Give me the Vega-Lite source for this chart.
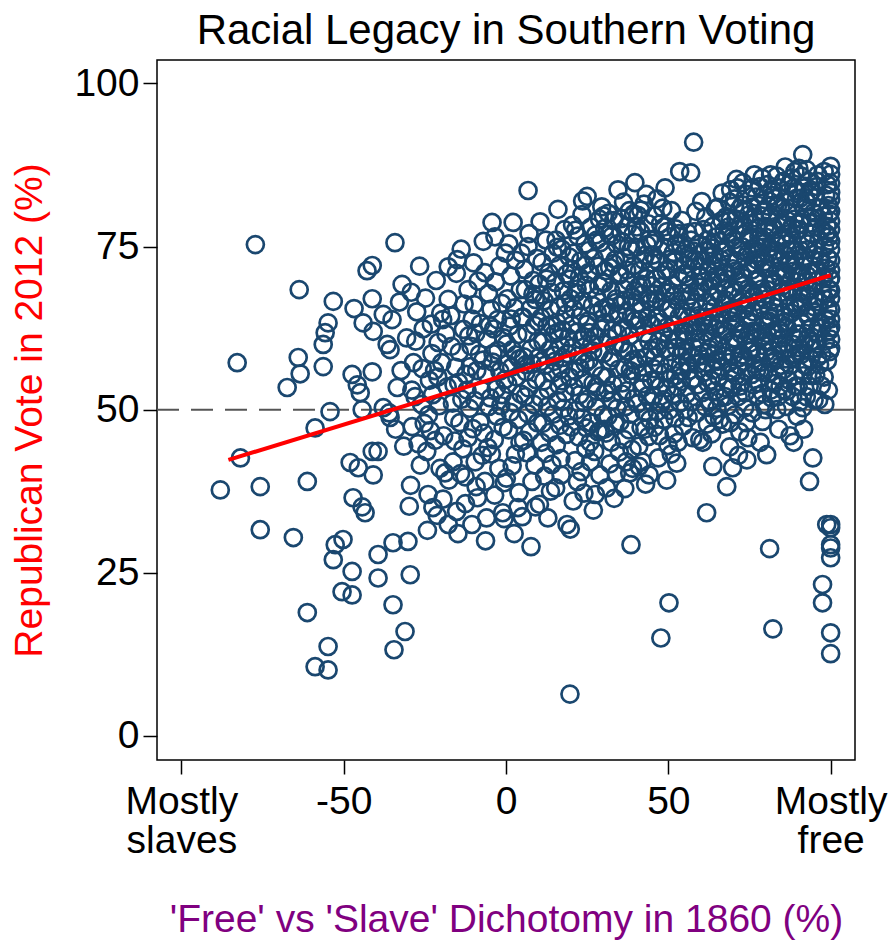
{
  "$schema": "https://vega.github.io/schema/vega-lite/v6.json",
  "width": 698,
  "height": 700,
  "autosize": "none",
  "padding": {"left": 157, "top": 60, "right": 36, "bottom": 184},
  "background": "white",
  "title": {"text": "Racial Legacy in Southern Voting", "fontSize": 42, "fontWeight": "normal", "font": "Liberation Sans", "color": "black", "anchor": "middle", "offset": 7},
  "config": {
    "font": "Liberation Sans",
    "view": {"stroke": "black", "strokeWidth": 1.5},
    "axis": {"domain": false, "grid": false, "tickColor": "black", "tickWidth": 1.5, "labelColor": "black", "labelFont": "Liberation Sans", "titleFont": "Liberation Sans", "titleFontWeight": "normal", "labelFontSize": 39, "titleFontSize": 39, "tickSize": 14}
  },
  "datasets": {
    "ref": [{"y": 50, "xa": -107.5, "xb": 5}],
    "ref2": [{"y": 50, "xa": 5, "xb": 107.5}],
    "fit": [{"x": -85.5, "y": 42.3}, {"x": 100, "y": 70.6}],
    "pts": [
{"x":-88.0,"y":37.7},{"x":-77.2,"y":75.3},{"x":-82.8,"y":57.2},{"x":-81.8,"y":42.6},{"x":-75.7,"y":38.2},{"x":-75.7,"y":31.6},{"x":-65.5,"y":30.4},{"x":-63.7,"y":68.4},{"x":-64.0,"y":58.0},{"x":-63.4,"y":55.5},{"x":-67.4,"y":53.4},{"x":-61.2,"y":39.0},{"x":-58.8,"y":47.2},{"x":-61.2,"y":18.9},{"x":-58.8,"y":10.6},{"x":-54.8,"y":10.1},{"x":-54.8,"y":13.7},{"x":-53.2,"y":66.6},{"x":-56.3,"y":60.0},{"x":-55.7,"y":61.8},{"x":-54.8,"y":63.3},{"x":-56.3,"y":56.6},{"x":-54.2,"y":49.7},{"x":-53.2,"y":27.0},{"x":-52.6,"y":29.3},{"x":-50.2,"y":30.1},{"x":-50.5,"y":22.1},{"x":-47.4,"y":21.6},{"x":-47.4,"y":25.2},{"x":-47.1,"y":36.5},{"x":-48.0,"y":41.9},{"x":-45.5,"y":41.1},{"x":-47.4,"y":55.4},{"x":-45.8,"y":53.8},{"x":-44.9,"y":52.6},{"x":-46.8,"y":65.5},{"x":-44.0,"y":63.3},{"x":-44.3,"y":35.1},{"x":-43.4,"y":34.2},{"x":-41.2,"y":67.0},{"x":-40.9,"y":62.0},{"x":-41.2,"y":55.8},{"x":-41.2,"y":43.6},{"x":-39.4,"y":43.6},{"x":-40.9,"y":40.0},{"x":-39.4,"y":27.8},{"x":-39.4,"y":24.2},{"x":-37.8,"y":64.6},{"x":-36.6,"y":60.0},{"x":-37.8,"y":50.3},{"x":-44.3,"y":50.0},{"x":-34.8,"y":29.6},{"x":-34.8,"y":20.1},{"x":-34.5,"y":13.2},{"x":-34.2,"y":75.6},{"x":-42.8,"y":71.3},{"x":-41.2,"y":72.1},{"x":-32.0,"y":69.2},{"x":-31.1,"y":16.0},{"x":-35.1,"y":63.8},{"x":-35.7,"y":59.2},{"x":-36.0,"y":49.5},{"x":-33.5,"y":53.4},{"x":-35.7,"y":48.8},{"x":-32.3,"y":56.0},{"x":-31.5,"y":44.4},{"x":-34.0,"y":47.0},{"x":-32.8,"y":66.5},{"x":-30.6,"y":61.0},
{"x":-29.5,"y":24.7},{"x":-30.2,"y":29.8},{"x":-29.8,"y":35.2},{"x":-29.4,"y":38.4},{"x":-28.9,"y":47.4},{"x":-29.0,"y":53.0},{"x":-28.5,"y":57.2},{"x":-29.2,"y":68.0},{"x":-27.8,"y":60.5},{"x":-26.6,"y":72.0},{"x":-26.0,"y":50.8},{"x":-27.1,"y":44.8},{"x":-25.8,"y":56.3},{"x":-25.5,"y":62.4},{"x":-26.4,"y":41.5},{"x":-27.5,"y":65.0},{"x":-25.2,"y":47.9},{"x":-28.0,"y":52.0},
{"x":-24.4,"y":43.6},{"x":-24.0,"y":37.0},{"x":-22.5,"y":35.0},{"x":-23.6,"y":54.5},{"x":-22.8,"y":58.6},{"x":-24.8,"y":67.1},{"x":-21.5,"y":69.8},{"x":-23.0,"y":63.1},{"x":-20.3,"y":41.0},{"x":-21.8,"y":45.3},{"x":-20.6,"y":50.6},{"x":-22.0,"y":56.0},{"x":-20.9,"y":60.3},{"x":-23.9,"y":49.2},{"x":-21.2,"y":33.8},{"x":-24.2,"y":31.5},{"x":-20.1,"y":64.8},{"x":-22.6,"y":52.3},{"x":-21.0,"y":55.0},{"x":-23.3,"y":46.8},
{"x":-17.8,"y":71.9},{"x":-17.8,"y":66.9},{"x":-19.5,"y":63.8},{"x":-18.8,"y":40.3},{"x":-17.6,"y":39.2},{"x":-16.3,"y":42.0},{"x":-15.2,"y":34.4},{"x":-17.8,"y":32.4},{"x":-16.1,"y":48.7},{"x":-19.2,"y":46.0},{"x":-15.5,"y":56.5},{"x":-18.1,"y":53.5},{"x":-16.8,"y":59.7},{"x":-19.8,"y":57.2},{"x":-15.0,"y":73.0},{"x":-15.3,"y":70.9},{"x":-16.5,"y":51.0},{"x":-18.5,"y":61.6},{"x":-17.0,"y":64.4},{"x":-15.8,"y":45.2},{"x":-19.4,"y":36.3},{"x":-16.0,"y":53.8},
{"x":-12.6,"y":39.7},{"x":-11.7,"y":45.7},{"x":-14.0,"y":40.2},{"x":-10.5,"y":32.4},{"x":-14.8,"y":31.0},{"x":-11.7,"y":68.4},{"x":-10.0,"y":72.5},{"x":-13.1,"y":62.3},{"x":-12.3,"y":55.4},{"x":-14.4,"y":58.8},{"x":-10.8,"y":59.7},{"x":-13.6,"y":51.6},{"x":-11.2,"y":50.2},{"x":-14.2,"y":48.0},{"x":-12.9,"y":66.2},{"x":-10.4,"y":63.9},{"x":-13.8,"y":74.6},{"x":-11.0,"y":56.6},{"x":-12.0,"y":53.0},{"x":-10.2,"y":47.1},{"x":-14.6,"y":54.2},{"x":-13.3,"y":44.0},{"x":-11.5,"y":61.3},{"x":-12.5,"y":35.6},
{"x":-9.5,"y":42.0},{"x":-7.3,"y":43.0},{"x":-6.5,"y":39.0},{"x":-9.2,"y":38.2},{"x":-6.0,"y":33.4},{"x":-7.0,"y":75.8},{"x":-6.5,"y":71.0},{"x":-8.6,"y":69.7},{"x":-9.8,"y":66.1},{"x":-5.4,"y":67.8},{"x":-7.8,"y":63.2},{"x":-5.8,"y":60.8},{"x":-8.2,"y":58.5},{"x":-9.0,"y":56.0},{"x":-6.2,"y":55.5},{"x":-7.5,"y":53.0},{"x":-9.6,"y":51.4},{"x":-5.3,"y":50.5},{"x":-8.0,"y":48.1},{"x":-6.8,"y":46.4},{"x":-5.6,"y":44.2},{"x":-9.3,"y":61.7},{"x":-7.1,"y":57.6},{"x":-5.1,"y":62.9},{"x":-8.8,"y":36.5},{"x":-6.3,"y":29.9},
{"x":-4.3,"y":78.7},{"x":-3.4,"y":76.5},{"x":-2.0,"y":72.0},{"x":-3.2,"y":69.6},{"x":-0.2,"y":74.0},{"x":-4.6,"y":65.4},{"x":-1.3,"y":66.3},{"x":-3.8,"y":62.4},{"x":-0.7,"y":61.0},{"x":-2.5,"y":59.1},{"x":-4.1,"y":57.3},{"x":-1.9,"y":55.9},{"x":-0.4,"y":54.6},{"x":-3.0,"y":53.2},{"x":-4.8,"y":51.8},{"x":-1.6,"y":50.6},{"x":-2.8,"y":49.0},{"x":-0.9,"y":47.3},{"x":-3.6,"y":45.4},{"x":-4.5,"y":43.2},{"x":-2.2,"y":41.0},{"x":-0.5,"y":38.8},{"x":-3.5,"y":36.9},{"x":-1.0,"y":34.2},{"x":-0.6,"y":33.3},{"x":-4.0,"y":58.6},{"x":-2.6,"y":63.8},{"x":-1.2,"y":52.3},
{"x":2.2,"y":78.7},{"x":0.9,"y":75.4},{"x":3.0,"y":72.9},{"x":1.5,"y":70.5},{"x":4.4,"y":68.4},{"x":0.4,"y":67.0},{"x":2.7,"y":65.6},{"x":4.9,"y":64.1},{"x":1.1,"y":62.8},{"x":3.6,"y":61.5},{"x":0.2,"y":60.1},{"x":2.0,"y":59.2},{"x":4.1,"y":57.8},{"x":1.7,"y":56.5},{"x":3.3,"y":55.0},{"x":0.6,"y":53.9},{"x":4.6,"y":52.4},{"x":2.4,"y":51.1},{"x":1.3,"y":49.6},{"x":3.8,"y":48.5},{"x":0.8,"y":46.9},{"x":4.3,"y":45.0},{"x":2.9,"y":43.2},{"x":1.9,"y":41.4},{"x":3.7,"y":35.0},{"x":4.0,"y":37.3},{"x":0.1,"y":39.5},{"x":2.5,"y":31.0},{"x":1.6,"y":63.9},{"x":3.1,"y":58.4},{"x":0.3,"y":57.0},{"x":4.7,"y":74.0},
{"x":6.8,"y":83.6},{"x":6.8,"y":75.0},{"x":7.1,"y":77.0},{"x":9.5,"y":73.2},{"x":5.7,"y":71.5},{"x":8.4,"y":69.8},{"x":6.0,"y":68.4},{"x":9.0,"y":66.9},{"x":7.5,"y":65.5},{"x":5.2,"y":64.2},{"x":8.8,"y":62.9},{"x":6.5,"y":61.7},{"x":9.8,"y":60.5},{"x":7.8,"y":59.4},{"x":5.5,"y":58.1},{"x":8.1,"y":57.0},{"x":6.2,"y":55.8},{"x":9.3,"y":54.6},{"x":7.0,"y":53.3},{"x":5.9,"y":52.0},{"x":8.6,"y":50.8},{"x":6.7,"y":49.4},{"x":9.7,"y":48.0},{"x":7.3,"y":46.6},{"x":5.4,"y":45.3},{"x":8.0,"y":39.0},{"x":8.9,"y":41.5},{"x":6.4,"y":43.4},{"x":7.7,"y":29.0},{"x":9.1,"y":35.1},{"x":5.0,"y":33.6},{"x":9.9,"y":63.5},{"x":6.1,"y":56.9},{"x":8.3,"y":67.7},
{"x":10.5,"y":78.8},{"x":12.3,"y":76.0},{"x":14.5,"y":74.0},{"x":11.1,"y":72.6},{"x":13.2,"y":71.0},{"x":10.2,"y":69.3},{"x":14.0,"y":68.0},{"x":11.8,"y":66.7},{"x":13.8,"y":65.3},{"x":10.8,"y":64.1},{"x":12.6,"y":62.8},{"x":14.8,"y":61.6},{"x":11.4,"y":60.4},{"x":13.5,"y":59.2},{"x":10.0,"y":58.0},{"x":12.0,"y":56.8},{"x":14.3,"y":55.6},{"x":11.6,"y":54.4},{"x":13.0,"y":53.1},{"x":10.6,"y":51.9},{"x":12.8,"y":50.5},{"x":14.6,"y":49.3},{"x":11.3,"y":47.9},{"x":13.4,"y":46.5},{"x":10.9,"y":45.0},{"x":12.2,"y":43.3},{"x":14.1,"y":41.6},{"x":11.9,"y":39.8},{"x":13.7,"y":37.5},{"x":10.3,"y":35.5},{"x":12.9,"y":33.4},{"x":11.0,"y":57.4},{"x":13.9,"y":63.0},{"x":10.7,"y":67.6},{"x":12.5,"y":70.0},{"x":14.9,"y":58.3},
{"x":16.0,"y":80.7},{"x":18.0,"y":77.6},{"x":15.4,"y":76.0},{"x":17.2,"y":74.6},{"x":19.5,"y":73.4},{"x":16.5,"y":72.1},{"x":18.7,"y":70.8},{"x":15.2,"y":69.5},{"x":17.7,"y":68.2},{"x":19.9,"y":67.0},{"x":16.2,"y":65.8},{"x":18.4,"y":64.6},{"x":15.7,"y":63.4},{"x":17.4,"y":62.2},{"x":19.2,"y":61.0},{"x":16.8,"y":59.8},{"x":18.9,"y":58.6},{"x":15.0,"y":57.4},{"x":17.0,"y":56.2},{"x":19.6,"y":55.0},{"x":16.3,"y":53.8},{"x":18.2,"y":52.6},{"x":15.9,"y":51.4},{"x":17.8,"y":50.2},{"x":19.3,"y":49.0},{"x":16.6,"y":47.6},{"x":18.5,"y":46.2},{"x":15.5,"y":44.6},{"x":17.0,"y":40.0},{"x":18.8,"y":32.4},{"x":19.8,"y":31.7},{"x":16.9,"y":42.5},{"x":15.3,"y":38.0},{"x":19.7,"y":6.4},{"x":17.5,"y":58.0},{"x":16.1,"y":61.9},{"x":18.3,"y":66.3},{"x":19.7,"y":70.0},{"x":15.8,"y":74.9},{"x":17.3,"y":54.4},
{"x":23.4,"y":79.9},{"x":20.5,"y":78.3},{"x":22.1,"y":76.6},{"x":24.3,"y":75.4},{"x":21.0,"y":74.0},{"x":23.0,"y":72.8},{"x":20.2,"y":71.5},{"x":22.6,"y":70.3},{"x":24.7,"y":69.1},{"x":21.5,"y":67.9},{"x":23.7,"y":66.7},{"x":20.8,"y":65.5},{"x":22.9,"y":64.3},{"x":24.9,"y":63.1},{"x":21.8,"y":61.9},{"x":23.3,"y":60.7},{"x":20.4,"y":59.5},{"x":22.3,"y":58.3},{"x":24.4,"y":57.1},{"x":21.2,"y":55.9},{"x":23.9,"y":54.7},{"x":20.9,"y":53.5},{"x":22.7,"y":52.3},{"x":24.1,"y":51.1},{"x":21.6,"y":49.9},{"x":23.5,"y":48.7},{"x":20.1,"y":47.3},{"x":22.4,"y":45.8},{"x":24.6,"y":44.0},{"x":21.3,"y":42.2},{"x":23.1,"y":40.5},{"x":24.0,"y":37.2},{"x":22.0,"y":39.0},{"x":20.7,"y":36.0},{"x":24.8,"y":47.2},{"x":23.8,"y":61.2},{"x":21.9,"y":68.5},{"x":20.3,"y":63.0},{"x":22.8,"y":56.4},{"x":24.5,"y":72.2},{"x":21.4,"y":77.5},{"x":23.6,"y":82.0},
{"x":25.0,"y":82.7},{"x":29.5,"y":81.1},{"x":28.8,"y":79.2},{"x":26.2,"y":78.0},{"x":27.6,"y":76.8},{"x":29.0,"y":75.6},{"x":25.5,"y":74.4},{"x":27.1,"y":73.2},{"x":28.5,"y":72.0},{"x":26.0,"y":70.8},{"x":29.7,"y":69.6},{"x":25.8,"y":68.4},{"x":27.9,"y":67.2},{"x":26.6,"y":66.0},{"x":28.2,"y":64.8},{"x":25.3,"y":63.6},{"x":29.2,"y":62.4},{"x":27.4,"y":61.2},{"x":26.4,"y":60.0},{"x":28.7,"y":58.8},{"x":25.6,"y":57.6},{"x":27.0,"y":56.4},{"x":29.4,"y":55.2},{"x":26.8,"y":54.0},{"x":28.1,"y":52.8},{"x":25.1,"y":51.6},{"x":27.7,"y":50.4},{"x":29.9,"y":49.2},{"x":26.1,"y":48.0},{"x":28.4,"y":46.6},{"x":25.9,"y":45.0},{"x":27.3,"y":43.6},{"x":26.0,"y":42.0},{"x":28.9,"y":40.0},{"x":27.5,"y":37.0},{"x":29.1,"y":46.8},{"x":26.9,"y":34.6},{"x":25.4,"y":71.0},{"x":28.0,"y":76.0},{"x":26.7,"y":59.0},{"x":29.6,"y":65.4},{"x":27.8,"y":53.5},{"x":25.7,"y":61.8},{"x":28.6,"y":69.0},
{"x":34.5,"y":83.7},{"x":31.5,"y":80.1},{"x":33.2,"y":79.0},{"x":30.4,"y":77.8},{"x":32.6,"y":76.6},{"x":34.1,"y":75.4},{"x":30.9,"y":74.2},{"x":33.7,"y":73.0},{"x":31.9,"y":71.8},{"x":34.8,"y":70.6},{"x":30.2,"y":69.4},{"x":32.3,"y":68.2},{"x":33.9,"y":67.0},{"x":31.2,"y":65.8},{"x":34.4,"y":64.6},{"x":30.7,"y":63.4},{"x":32.9,"y":62.2},{"x":31.6,"y":61.0},{"x":33.4,"y":59.8},{"x":30.1,"y":58.6},{"x":32.1,"y":57.4},{"x":34.7,"y":56.2},{"x":31.0,"y":55.0},{"x":33.0,"y":53.8},{"x":30.5,"y":52.6},{"x":32.7,"y":51.4},{"x":34.2,"y":50.2},{"x":31.4,"y":49.0},{"x":33.6,"y":47.8},{"x":30.8,"y":46.4},{"x":32.4,"y":45.0},{"x":34.9,"y":43.5},{"x":31.0,"y":38.0},{"x":32.0,"y":41.7},{"x":33.3,"y":36.4},{"x":34.0,"y":40.2},{"x":30.3,"y":47.0},{"x":31.8,"y":76.9},{"x":33.8,"y":66.4},{"x":30.6,"y":71.3},{"x":32.8,"y":58.0},{"x":34.3,"y":61.7},{"x":31.3,"y":53.0},{"x":33.1,"y":72.4},{"x":30.0,"y":79.7},{"x":32.2,"y":64.9},
{"x":39.7,"y":84.8},{"x":36.2,"y":81.8},{"x":38.0,"y":80.5},{"x":35.5,"y":79.3},{"x":37.4,"y":78.1},{"x":39.1,"y":76.9},{"x":35.9,"y":75.7},{"x":38.5,"y":74.5},{"x":36.7,"y":73.3},{"x":39.4,"y":72.1},{"x":35.2,"y":70.9},{"x":37.8,"y":69.7},{"x":36.3,"y":68.5},{"x":38.9,"y":67.3},{"x":35.6,"y":66.1},{"x":37.1,"y":64.9},{"x":39.8,"y":63.7},{"x":36.0,"y":62.5},{"x":38.2,"y":61.3},{"x":35.3,"y":60.1},{"x":37.6,"y":58.9},{"x":39.2,"y":57.7},{"x":36.5,"y":56.5},{"x":38.7,"y":55.3},{"x":35.8,"y":54.1},{"x":37.3,"y":52.9},{"x":39.5,"y":51.7},{"x":36.9,"y":50.5},{"x":38.4,"y":49.3},{"x":35.1,"y":48.1},{"x":37.9,"y":46.9},{"x":36.4,"y":45.4},{"x":38.8,"y":43.9},{"x":37.0,"y":42.0},{"x":38.1,"y":40.3},{"x":36.6,"y":37.9},{"x":38.5,"y":29.3},{"x":39.0,"y":41.0},{"x":35.4,"y":77.2},{"x":37.2,"y":71.4},{"x":39.6,"y":68.2},{"x":36.1,"y":59.4},{"x":38.6,"y":64.1},{"x":35.7,"y":52.4},{"x":37.7,"y":75.0},{"x":39.3,"y":80.0},{"x":36.8,"y":66.8},{"x":38.3,"y":56.0},
{"x":42.5,"y":81.5},{"x":40.6,"y":79.8},{"x":43.8,"y":78.5},{"x":41.4,"y":77.3},{"x":44.2,"y":76.1},{"x":40.2,"y":74.9},{"x":42.9,"y":73.7},{"x":44.7,"y":72.5},{"x":41.1,"y":71.3},{"x":43.3,"y":70.1},{"x":40.8,"y":68.9},{"x":42.1,"y":67.7},{"x":44.5,"y":66.5},{"x":41.7,"y":65.3},{"x":43.6,"y":64.1},{"x":40.4,"y":62.9},{"x":42.7,"y":61.7},{"x":44.0,"y":60.5},{"x":41.3,"y":59.3},{"x":43.1,"y":58.1},{"x":40.0,"y":56.9},{"x":42.3,"y":55.7},{"x":44.8,"y":54.5},{"x":41.9,"y":53.3},{"x":43.5,"y":52.1},{"x":40.5,"y":50.9},{"x":42.6,"y":49.7},{"x":44.3,"y":48.5},{"x":41.6,"y":47.3},{"x":43.9,"y":45.9},{"x":40.9,"y":44.4},{"x":42.0,"y":42.0},{"x":44.1,"y":40.0},{"x":43.0,"y":38.6},{"x":41.0,"y":41.3},{"x":42.8,"y":47.0},{"x":44.6,"y":51.3},{"x":40.3,"y":78.0},{"x":43.4,"y":75.3},{"x":41.8,"y":69.2},{"x":44.4,"y":63.2},{"x":40.7,"y":57.8},{"x":42.4,"y":72.9},{"x":43.7,"y":67.0},{"x":41.2,"y":63.8},{"x":44.9,"y":59.1},{"x":42.2,"y":54.0},{"x":40.1,"y":66.2},{"x":43.2,"y":83.0},{"x":41.5,"y":80.6},
{"x":49.0,"y":84.0},{"x":46.5,"y":82.3},{"x":48.3,"y":80.9},{"x":45.6,"y":79.7},{"x":47.6,"y":78.5},{"x":49.6,"y":77.3},{"x":46.0,"y":76.1},{"x":48.8,"y":74.9},{"x":45.3,"y":73.7},{"x":47.2,"y":72.5},{"x":49.3,"y":71.3},{"x":46.4,"y":70.1},{"x":48.1,"y":68.9},{"x":45.9,"y":67.7},{"x":47.9,"y":66.5},{"x":49.8,"y":65.3},{"x":46.8,"y":64.1},{"x":45.1,"y":62.9},{"x":48.5,"y":61.7},{"x":47.0,"y":60.5},{"x":49.1,"y":59.3},{"x":45.7,"y":58.1},{"x":47.4,"y":56.9},{"x":48.9,"y":55.7},{"x":46.2,"y":54.5},{"x":49.5,"y":53.3},{"x":45.4,"y":52.1},{"x":47.8,"y":50.9},{"x":46.6,"y":49.7},{"x":48.6,"y":48.5},{"x":45.8,"y":47.3},{"x":47.3,"y":46.0},{"x":49.9,"y":44.5},{"x":46.9,"y":42.6},{"x":49.5,"y":39.2},{"x":47.7,"y":15.0},{"x":50.2,"y":20.4},{"x":45.2,"y":75.5},{"x":48.0,"y":70.7},{"x":46.3,"y":66.9},{"x":49.4,"y":62.6},{"x":45.5,"y":56.3},{"x":48.4,"y":51.5},{"x":46.7,"y":59.6},{"x":47.1,"y":63.4},{"x":49.2,"y":67.9},{"x":45.0,"y":69.0},{"x":48.7,"y":78.0},{"x":46.1,"y":73.0},{"x":47.5,"y":53.6},
{"x":53.5,"y":86.5},{"x":51.0,"y":80.5},{"x":54.2,"y":79.0},{"x":52.3,"y":77.7},{"x":50.5,"y":76.5},{"x":53.8,"y":75.3},{"x":51.6,"y":74.1},{"x":54.7,"y":73.9},{"x":52.0,"y":72.7},{"x":50.2,"y":71.5},{"x":53.1,"y":70.3},{"x":51.3,"y":69.1},{"x":54.4,"y":67.9},{"x":52.7,"y":66.7},{"x":50.8,"y":65.5},{"x":53.4,"y":64.3},{"x":51.9,"y":63.1},{"x":54.9,"y":61.9},{"x":50.1,"y":60.7},{"x":52.5,"y":59.5},{"x":53.9,"y":58.3},{"x":51.2,"y":57.1},{"x":54.1,"y":55.9},{"x":50.6,"y":54.7},{"x":52.8,"y":53.5},{"x":51.5,"y":52.3},{"x":53.6,"y":51.1},{"x":50.3,"y":49.9},{"x":52.1,"y":48.7},{"x":54.6,"y":47.5},{"x":51.8,"y":46.3},{"x":53.0,"y":45.0},{"x":50.9,"y":43.2},{"x":52.6,"y":41.8},{"x":54.0,"y":54.3},{"x":53.5,"y":51.0},{"x":50.4,"y":68.0},{"x":52.4,"y":75.4},{"x":54.8,"y":70.8},{"x":51.1,"y":62.0},{"x":53.7,"y":56.7},{"x":50.7,"y":58.9},{"x":52.9,"y":61.0},{"x":54.3,"y":65.0},{"x":51.7,"y":67.5},{"x":53.2,"y":77.0},{"x":50.0,"y":73.0},{"x":52.2,"y":55.2},{"x":54.5,"y":59.0},
{"x":57.8,"y":91.0},{"x":56.9,"y":86.3},{"x":58.5,"y":80.4},{"x":56.0,"y":77.1},{"x":57.0,"y":76.0},{"x":59.4,"y":75.4},{"x":55.6,"y":74.6},{"x":58.2,"y":73.0},{"x":55.2,"y":72.2},{"x":57.5,"y":71.6},{"x":59.8,"y":70.4},{"x":56.6,"y":69.2},{"x":58.8,"y":68.0},{"x":55.8,"y":66.8},{"x":57.2,"y":65.6},{"x":59.1,"y":64.4},{"x":56.9,"y":63.2},{"x":55.3,"y":62.0},{"x":58.4,"y":60.8},{"x":57.7,"y":59.6},{"x":59.6,"y":58.4},{"x":55.9,"y":57.2},{"x":56.4,"y":56.0},{"x":58.0,"y":54.8},{"x":59.0,"y":53.8},{"x":55.6,"y":52.4},{"x":57.3,"y":51.2},{"x":58.7,"y":49.5},{"x":56.1,"y":48.8},{"x":57.5,"y":45.7},{"x":59.7,"y":45.4},{"x":55.1,"y":50.0},{"x":57.9,"y":61.8},{"x":56.7,"y":67.5},{"x":58.3,"y":66.5},{"x":55.7,"y":70.4},{"x":57.6,"y":74.3},{"x":59.5,"y":72.0},{"x":56.2,"y":64.0},{"x":58.7,"y":62.8},{"x":55.0,"y":60.5},{"x":57.4,"y":58.0},{"x":59.2,"y":57.0},{"x":56.5,"y":73.0},{"x":58.1,"y":77.3},{"x":55.8,"y":59.0},{"x":57.0,"y":54.5},{"x":59.7,"y":68.8},
{"x":60.3,"y":81.9},{"x":61.5,"y":79.5},{"x":60.8,"y":77.6},{"x":62.0,"y":76.0},{"x":61.2,"y":74.3},{"x":60.5,"y":72.8},{"x":62.3,"y":71.2},{"x":61.0,"y":69.6},{"x":60.1,"y":68.0},{"x":61.8,"y":66.5},{"x":62.4,"y":65.0},{"x":60.7,"y":63.4},{"x":61.4,"y":61.9},{"x":60.2,"y":60.3},{"x":62.1,"y":58.8},{"x":61.6,"y":57.2},{"x":60.9,"y":55.7},{"x":62.2,"y":54.1},{"x":60.4,"y":52.6},{"x":61.3,"y":50.5},{"x":61.8,"y":34.2},{"x":60.6,"y":45.0},{"x":62.0,"y":47.8},{"x":61.1,"y":64.2},{"x":60.0,"y":70.5},{"x":62.4,"y":73.5},
{"x":63.7,"y":78.1},{"x":64.5,"y":80.8},{"x":62.9,"y":75.3},{"x":64.1,"y":73.7},{"x":63.3,"y":72.1},{"x":64.8,"y":70.5},{"x":62.7,"y":68.9},{"x":63.9,"y":67.3},{"x":64.3,"y":65.7},{"x":63.0,"y":64.1},{"x":64.6,"y":62.5},{"x":63.5,"y":60.9},{"x":62.6,"y":59.3},{"x":64.9,"y":57.7},{"x":63.8,"y":56.1},{"x":63.1,"y":54.5},{"x":64.4,"y":52.9},{"x":62.8,"y":51.3},{"x":63.7,"y":41.3},{"x":64.0,"y":49.0},{"x":63.4,"y":46.3},{"x":64.7,"y":76.5},{"x":63.6,"y":69.8},{"x":62.5,"y":63.0},{"x":64.2,"y":58.5},{"x":63.2,"y":74.8},
{"x":65.8,"y":48.5},{"x":66.7,"y":47.8},{"x":65.2,"y":81.0},{"x":66.5,"y":79.0},{"x":67.2,"y":77.4},{"x":65.6,"y":75.8},{"x":66.9,"y":74.2},{"x":65.1,"y":72.6},{"x":67.0,"y":71.0},{"x":66.2,"y":69.4},{"x":65.4,"y":67.8},{"x":67.4,"y":66.2},{"x":66.0,"y":64.6},{"x":65.9,"y":63.0},{"x":66.8,"y":61.4},{"x":65.3,"y":59.8},{"x":67.1,"y":58.2},{"x":66.4,"y":56.6},{"x":65.5,"y":55.0},{"x":67.3,"y":53.4},{"x":66.1,"y":51.8},{"x":65.0,"y":50.2},{"x":66.6,"y":83.2},{"x":65.7,"y":70.2},{"x":67.0,"y":62.2},{"x":66.3,"y":73.0},{"x":65.2,"y":57.4},{"x":67.4,"y":68.6},
{"x":68.9,"y":81.8},{"x":69.2,"y":83.7},{"x":67.9,"y":79.6},{"x":68.5,"y":78.0},{"x":69.6,"y":76.4},{"x":67.6,"y":74.8},{"x":68.8,"y":73.2},{"x":69.9,"y":71.6},{"x":68.1,"y":70.0},{"x":69.3,"y":68.4},{"x":67.7,"y":66.8},{"x":68.6,"y":65.2},{"x":69.5,"y":63.6},{"x":68.0,"y":62.0},{"x":69.0,"y":60.4},{"x":67.8,"y":58.8},{"x":68.7,"y":57.2},{"x":69.8,"y":55.6},{"x":68.3,"y":54.0},{"x":69.7,"y":53.4},{"x":68.9,"y":44.3},{"x":68.0,"y":38.2},{"x":69.8,"y":41.1},{"x":68.4,"y":50.6},{"x":69.1,"y":48.0},{"x":67.5,"y":52.0},{"x":68.2,"y":76.9},{"x":69.4,"y":64.9},{"x":67.9,"y":71.0},{"x":69.0,"y":79.0},
{"x":71.0,"y":85.3},{"x":71.3,"y":84.0},{"x":70.4,"y":82.3},{"x":72.0,"y":80.8},{"x":70.8,"y":79.2},{"x":71.7,"y":77.6},{"x":70.2,"y":76.0},{"x":72.3,"y":74.4},{"x":71.1,"y":72.8},{"x":70.6,"y":71.2},{"x":71.9,"y":69.6},{"x":70.3,"y":68.0},{"x":72.2,"y":66.4},{"x":71.4,"y":64.8},{"x":70.7,"y":63.2},{"x":72.4,"y":61.6},{"x":71.2,"y":60.0},{"x":70.1,"y":58.4},{"x":71.8,"y":56.8},{"x":70.9,"y":55.2},{"x":72.1,"y":53.6},{"x":71.5,"y":52.0},{"x":70.5,"y":49.2},{"x":72.0,"y":46.6},{"x":71.6,"y":43.0},{"x":70.0,"y":65.5},{"x":71.0,"y":74.9},{"x":72.4,"y":70.8},{"x":70.4,"y":61.0},{"x":71.9,"y":58.0},{"x":72.3,"y":78.3},
{"x":73.5,"y":50.3},{"x":74.5,"y":45.7},{"x":74.2,"y":42.3},{"x":73.0,"y":84.8},{"x":74.0,"y":83.0},{"x":72.8,"y":81.4},{"x":74.6,"y":79.8},{"x":73.3,"y":78.2},{"x":74.9,"y":76.6},{"x":72.6,"y":75.0},{"x":73.8,"y":73.4},{"x":74.3,"y":71.8},{"x":73.1,"y":70.2},{"x":74.7,"y":68.6},{"x":72.9,"y":67.0},{"x":73.6,"y":65.4},{"x":74.4,"y":63.8},{"x":72.7,"y":62.2},{"x":73.9,"y":60.6},{"x":74.8,"y":59.0},{"x":73.2,"y":57.4},{"x":74.1,"y":55.8},{"x":72.5,"y":54.2},{"x":73.7,"y":52.6},{"x":74.0,"y":48.0},{"x":73.4,"y":80.6},{"x":74.5,"y":74.0},{"x":72.8,"y":69.0},{"x":74.2,"y":66.0},{"x":73.0,"y":58.4},{"x":74.9,"y":61.5},{"x":73.5,"y":76.9},
{"x":77.2,"y":56.1},{"x":76.0,"y":84.0},{"x":77.0,"y":82.6},{"x":75.5,"y":81.0},{"x":76.6,"y":79.4},{"x":77.4,"y":77.8},{"x":75.2,"y":76.2},{"x":76.3,"y":74.6},{"x":77.1,"y":73.0},{"x":75.8,"y":71.4},{"x":76.9,"y":69.8},{"x":75.4,"y":68.2},{"x":77.3,"y":66.6},{"x":76.1,"y":65.0},{"x":75.6,"y":63.4},{"x":76.8,"y":61.8},{"x":75.1,"y":60.2},{"x":77.0,"y":58.6},{"x":76.4,"y":57.0},{"x":75.7,"y":55.4},{"x":76.2,"y":53.8},{"x":77.5,"y":52.2},{"x":75.9,"y":49.5},{"x":76.5,"y":86.0},{"x":75.3,"y":78.5},{"x":76.7,"y":72.3},{"x":77.4,"y":70.0},{"x":75.0,"y":64.3},{"x":76.0,"y":62.0},{"x":77.2,"y":75.0},{"x":75.6,"y":59.0},{"x":76.4,"y":67.5},
{"x":78.2,"y":84.2},{"x":79.0,"y":48.2},{"x":78.9,"y":85.5},{"x":79.5,"y":82.9},{"x":77.8,"y":81.3},{"x":78.6,"y":79.7},{"x":79.8,"y":78.1},{"x":77.9,"y":76.5},{"x":79.2,"y":74.9},{"x":78.4,"y":73.3},{"x":79.6,"y":71.7},{"x":77.7,"y":70.1},{"x":78.8,"y":68.5},{"x":79.9,"y":66.9},{"x":78.1,"y":65.3},{"x":79.3,"y":63.7},{"x":78.5,"y":62.1},{"x":79.7,"y":60.5},{"x":77.6,"y":58.9},{"x":78.7,"y":57.3},{"x":79.4,"y":55.7},{"x":78.0,"y":54.1},{"x":79.1,"y":52.5},{"x":78.3,"y":45.0},{"x":79.5,"y":50.8},{"x":77.9,"y":67.8},{"x":79.0,"y":76.0},{"x":78.6,"y":61.0},{"x":79.8,"y":72.7},{"x":78.2,"y":56.0},{"x":79.3,"y":80.4},{"x":77.7,"y":74.0},
{"x":80.3,"y":43.1},{"x":81.2,"y":28.7},{"x":82.2,"y":16.4},{"x":81.8,"y":51.8},{"x":80.5,"y":84.5},{"x":81.5,"y":86.0},{"x":82.0,"y":82.8},{"x":80.8,"y":81.2},{"x":81.4,"y":79.6},{"x":82.3,"y":78.0},{"x":80.1,"y":76.4},{"x":81.1,"y":74.8},{"x":82.4,"y":73.2},{"x":80.6,"y":71.6},{"x":81.7,"y":70.0},{"x":80.4,"y":68.4},{"x":82.1,"y":66.8},{"x":81.0,"y":65.2},{"x":80.9,"y":63.6},{"x":82.2,"y":62.0},{"x":81.3,"y":60.4},{"x":80.2,"y":58.8},{"x":81.9,"y":57.2},{"x":80.7,"y":55.6},{"x":82.5,"y":54.0},{"x":81.6,"y":53.0},{"x":80.0,"y":50.0},{"x":81.0,"y":77.7},{"x":82.0,"y":69.3},{"x":80.4,"y":61.7},{"x":81.5,"y":64.0},{"x":82.3,"y":58.0},{"x":80.8,"y":73.9},{"x":81.9,"y":83.8},
{"x":83.4,"y":85.8},{"x":83.4,"y":50.0},{"x":84.2,"y":84.0},{"x":82.9,"y":82.4},{"x":84.6,"y":80.8},{"x":83.7,"y":79.2},{"x":82.7,"y":77.6},{"x":84.9,"y":76.0},{"x":83.1,"y":74.4},{"x":84.3,"y":72.8},{"x":83.5,"y":71.2},{"x":82.6,"y":69.6},{"x":84.8,"y":68.0},{"x":83.9,"y":66.4},{"x":83.0,"y":64.8},{"x":84.5,"y":63.2},{"x":83.3,"y":61.6},{"x":84.1,"y":60.0},{"x":82.8,"y":58.4},{"x":84.7,"y":56.8},{"x":83.6,"y":55.2},{"x":84.4,"y":53.6},{"x":83.8,"y":52.0},{"x":84.0,"y":47.0},{"x":83.2,"y":75.5},{"x":84.6,"y":70.3},{"x":82.9,"y":65.6},{"x":84.2,"y":62.2},{"x":83.0,"y":57.6},{"x":84.9,"y":78.6},{"x":83.6,"y":81.2},{"x":82.6,"y":73.7},
{"x":86.5,"y":52.8},{"x":86.0,"y":87.2},{"x":85.4,"y":85.0},{"x":87.0,"y":83.4},{"x":85.9,"y":81.8},{"x":86.8,"y":80.2},{"x":85.2,"y":78.6},{"x":87.3,"y":77.0},{"x":86.3,"y":75.4},{"x":85.6,"y":73.8},{"x":87.1,"y":72.2},{"x":86.1,"y":70.6},{"x":85.3,"y":69.0},{"x":86.9,"y":67.4},{"x":87.4,"y":65.8},{"x":85.8,"y":64.2},{"x":86.6,"y":62.6},{"x":85.1,"y":61.0},{"x":87.2,"y":59.4},{"x":86.2,"y":57.8},{"x":85.7,"y":56.2},{"x":87.0,"y":54.6},{"x":85.5,"y":53.0},{"x":86.4,"y":50.5},{"x":87.5,"y":46.0},{"x":85.0,"y":76.5},{"x":86.7,"y":79.0},{"x":85.9,"y":71.0},{"x":87.3,"y":68.5},{"x":86.0,"y":63.5},{"x":85.4,"y":59.0},{"x":86.8,"y":74.5},{"x":87.1,"y":84.5},
{"x":88.0,"y":85.5},{"x":89.0,"y":86.5},{"x":88.6,"y":84.0},{"x":89.5,"y":82.4},{"x":87.8,"y":80.8},{"x":88.9,"y":79.2},{"x":89.8,"y":77.6},{"x":88.2,"y":76.0},{"x":89.3,"y":74.4},{"x":87.6,"y":72.8},{"x":88.5,"y":71.2},{"x":89.6,"y":69.6},{"x":88.1,"y":68.0},{"x":89.1,"y":66.4},{"x":87.9,"y":64.8},{"x":88.7,"y":63.2},{"x":89.9,"y":61.6},{"x":88.4,"y":60.0},{"x":89.4,"y":58.4},{"x":87.7,"y":56.8},{"x":88.8,"y":55.2},{"x":89.2,"y":53.6},{"x":88.3,"y":52.0},{"x":89.7,"y":49.0},{"x":88.6,"y":45.0},{"x":89.0,"y":73.0},{"x":88.0,"y":78.0},{"x":89.5,"y":65.5},{"x":88.2,"y":58.0},{"x":89.8,"y":83.5},{"x":87.9,"y":70.0},{"x":88.9,"y":61.0},
{"x":91.4,"y":89.1},{"x":91.0,"y":85.8},{"x":90.5,"y":51.2},{"x":91.4,"y":50.3},{"x":90.2,"y":87.0},{"x":91.8,"y":84.0},{"x":90.6,"y":82.4},{"x":92.0,"y":80.8},{"x":91.2,"y":79.2},{"x":90.3,"y":77.6},{"x":92.3,"y":76.0},{"x":90.9,"y":74.4},{"x":91.6,"y":72.8},{"x":90.1,"y":71.2},{"x":92.2,"y":69.6},{"x":91.1,"y":68.0},{"x":90.7,"y":66.4},{"x":92.4,"y":64.8},{"x":91.3,"y":63.2},{"x":90.4,"y":61.6},{"x":91.9,"y":60.0},{"x":90.8,"y":58.4},{"x":92.1,"y":56.8},{"x":91.5,"y":55.2},{"x":90.0,"y":53.6},{"x":92.5,"y":52.0},{"x":91.7,"y":47.0},{"x":90.6,"y":78.5},{"x":92.0,"y":73.5},{"x":91.0,"y":65.8},{"x":90.3,"y":59.5},{"x":92.4,"y":82.0},{"x":91.2,"y":70.5},
{"x":93.0,"y":56.6},{"x":92.6,"y":86.8},{"x":94.5,"y":42.6},{"x":93.5,"y":39.0},{"x":93.2,"y":85.0},{"x":94.0,"y":83.4},{"x":92.8,"y":81.8},{"x":94.7,"y":80.2},{"x":93.6,"y":78.6},{"x":94.2,"y":77.0},{"x":93.0,"y":75.4},{"x":94.9,"y":73.8},{"x":93.8,"y":72.2},{"x":92.7,"y":70.6},{"x":94.4,"y":69.0},{"x":93.3,"y":67.4},{"x":94.8,"y":65.8},{"x":93.1,"y":64.2},{"x":94.1,"y":62.6},{"x":92.9,"y":61.0},{"x":94.6,"y":59.4},{"x":93.7,"y":57.8},{"x":94.3,"y":55.2},{"x":93.4,"y":53.6},{"x":94.9,"y":51.5},{"x":93.9,"y":79.5},{"x":92.8,"y":74.5},{"x":94.5,"y":71.0},{"x":93.2,"y":68.5},{"x":94.0,"y":60.5},{"x":93.5,"y":83.0},
{"x":95.7,"y":84.2},{"x":97.5,"y":23.2},{"x":97.5,"y":20.4},{"x":96.0,"y":86.0},{"x":95.3,"y":82.5},{"x":96.8,"y":80.9},{"x":95.9,"y":79.3},{"x":97.2,"y":77.7},{"x":96.4,"y":76.1},{"x":95.1,"y":74.5},{"x":97.0,"y":72.9},{"x":96.1,"y":71.3},{"x":95.6,"y":69.7},{"x":97.4,"y":68.1},{"x":96.5,"y":66.5},{"x":95.2,"y":64.9},{"x":96.9,"y":63.3},{"x":96.2,"y":61.7},{"x":95.8,"y":60.1},{"x":97.3,"y":58.5},{"x":96.6,"y":56.9},{"x":95.4,"y":55.3},{"x":97.1,"y":53.7},{"x":96.3,"y":51.5},{"x":95.5,"y":78.0},{"x":96.7,"y":73.5},{"x":95.0,"y":67.0},{"x":97.2,"y":62.5},{"x":96.0,"y":58.0},{"x":95.9,"y":85.0},
{"x":98.2,"y":50.8},{"x":98.8,"y":32.4},{"x":99.7,"y":58.9},{"x":98.0,"y":86.5},{"x":99.0,"y":84.5},{"x":98.5,"y":82.9},{"x":99.3,"y":81.3},{"x":97.8,"y":79.7},{"x":98.9,"y":78.1},{"x":99.5,"y":76.5},{"x":98.1,"y":74.9},{"x":99.1,"y":73.3},{"x":98.6,"y":71.7},{"x":97.9,"y":70.1},{"x":99.4,"y":68.5},{"x":98.3,"y":66.9},{"x":99.2,"y":65.3},{"x":98.7,"y":63.7},{"x":99.6,"y":62.1},{"x":98.4,"y":60.5},{"x":99.0,"y":57.5},{"x":98.0,"y":55.0},{"x":99.3,"y":53.0},{"x":98.6,"y":77.0},{"x":99.8,"y":70.0},{"x":98.2,"y":64.0},{"x":99.5,"y":80.0},
{"x":100,"y":87.3},{"x":100,"y":86.1},{"x":100,"y":84.7},{"x":100,"y":83.3},{"x":100,"y":82.2},{"x":100,"y":80.4},{"x":100,"y":78.9},{"x":100,"y":77.6},{"x":100,"y":75.8},{"x":100,"y":74.6},{"x":100,"y":72.9},{"x":100,"y":71.4},{"x":100,"y":70.2},{"x":100,"y":68.3},{"x":100,"y":67.1},{"x":100,"y":65.4},{"x":100,"y":63.9},{"x":100,"y":62.6},{"x":100,"y":60.8},{"x":100,"y":59.4},{"x":100,"y":32.4},{"x":100,"y":31.9},{"x":100,"y":29.3},{"x":100,"y":28.8},{"x":100,"y":27.3},{"x":100,"y":15.8},{"x":100,"y":12.6}
    ]
  },
  "layer": [
    {
      "data": {"name": "ref"},
      "mark": {"type": "rule", "color": "#555555", "strokeWidth": 2, "strokeDash": [22, 12]},
      "encoding": {
        "x": {"field": "xa", "type": "quantitative", "scale": {"domain": [-107.5, 107.5], "nice": false, "zero": false}},
        "x2": {"field": "xb"},
        "y": {"field": "y", "type": "quantitative"}
      }
    },
    {
      "data": {"name": "ref2"},
      "mark": {"type": "rule", "color": "#555555", "strokeWidth": 2},
      "encoding": {
        "x": {"field": "xa", "type": "quantitative"},
        "x2": {"field": "xb"},
        "y": {"field": "y", "type": "quantitative"}
      }
    },
    {
      "data": {"name": "pts"},
      "mark": {"type": "point", "shape": "circle", "filled": false, "size": 289, "strokeWidth": 2.7, "color": "#1a476f", "opacity": 1},
      "encoding": {
        "x": {"field": "x", "type": "quantitative", "scale": {"domain": [-107.5, 107.5], "nice": false, "zero": false},
          "axis": {"values": [-100, -50, 0, 50, 100], "labelExpr": "datum.value == -100 ? ['Mostly', 'slaves'] : datum.value == 100 ? ['Mostly', 'free'] : '' + datum.value", "labelLineHeight": 39, "labelPadding": 8, "labelFlush": false, "labelOverlap": false, "title": "'Free' vs 'Slave' Dichotomy in 1860 (%)", "titleColor": "#800080", "titlePadding": 40}},
        "y": {"field": "y", "type": "quantitative", "scale": {"domain": [-3.7, 103.6], "nice": false, "zero": false},
          "axis": {"values": [0, 25, 50, 75, 100], "labelPadding": 4, "title": "Republican Vote in 2012 (%)", "titleColor": "red", "titlePadding": 24}}
      }
    },
    {
      "data": {"name": "fit"},
      "mark": {"type": "line", "color": "red", "strokeWidth": 4},
      "encoding": {
        "x": {"field": "x", "type": "quantitative"},
        "y": {"field": "y", "type": "quantitative"}
      }
    }
  ]
}
